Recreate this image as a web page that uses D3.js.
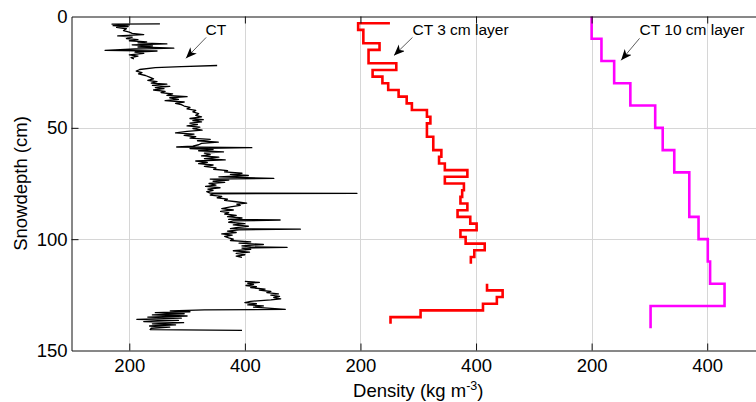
<!DOCTYPE html>
<html>
<head>
<meta charset="utf-8">
<script src="https://cdn.jsdelivr.net/npm/d3@7"></script>
<style>
  body { margin: 0; background: #fff; }
  svg { display: block; font-family: "Liberation Sans", Arial, sans-serif; }
</style>
</head>
<body>
<svg id="chart"></svg>
<script>
// CT profile, [depth cm, density kg m-3], null = no data
const ctProfile = [
  [3.3,253],[3.4,170],[3.8,200],[4.1,172],[4.5,198],[4.9,178],[5.5,195],[6.3,190],[7.0,200],[7.6,205],
  [8.1,225],[8.7,180],[9.3,205],[9.9,195],[10.4,215],[10.9,200],[11.4,230],[11.8,215],[12.3,265],[12.7,205],
  [13.2,240],[13.7,215],[14.2,277],[14.6,210],[15.2,158],[15.5,248],[16.0,210],[16.6,225],[17.2,200],[17.8,215],
  [18.5,203],[19.0,208],
  [20.5,null],
  [22.0,352],[22.5,290],[23.0,245],[23.8,218],[24.5,212],[25.2,222],[25.8,216],[26.5,228],[27.2,235],[28.0,242],
  [28.7,232],[29.3,248],[29.9,238],[30.4,265],[30.9,240],[31.4,270],[31.9,245],[32.4,260],[33.0,242],[33.6,262],
  [34.2,255],[34.8,275],[35.4,265],[36.0,300],[36.5,270],[37.2,285],[37.8,262],[38.4,295],[39.0,280],[39.6,290],
  [40.2,295],[40.8,305],[41.5,300],[42.2,315],[42.8,310],[43.6,320],[44.4,315],
  [45.1,325],[45.8,305],[46.3,328],[46.8,310],[47.3,325],[47.9,305],[48.5,318],[49.1,300],[49.7,322],[50.3,310],
  [51.0,326],[51.6,300],[52.3,280],[52.8,312],[53.4,295],[54.0,315],[54.6,305],[55.2,340],[55.8,318],[56.4,354],
  [57.0,325],[57.6,320],[58.2,310],[58.6,282],[58.9,412],[59.3,305],[59.8,345],[60.3,320],[60.8,363],[61.4,330],
  [62.0,340],[62.6,325],[63.2,355],[63.8,330],[64.4,366],[64.9,315],[65.5,335],[66.1,320],[66.7,345],[67.3,330],
  [68.0,350],[68.6,346],[69.2,370],[69.8,365],[70.4,395],[70.9,375],[71.4,406],[72.0,355],[72.7,450],[73.0,340],
  [73.5,372],[74.0,345],[74.5,365],[75.0,338],[75.7,350],[76.3,332],[76.9,357],[77.5,336],[78.1,345],[78.7,334],
  [79.3,340],[79.4,594],[79.6,345],[80.2,340],[80.8,360],[81.4,352],[82.0,370],[82.6,365],[83.2,385],[83.8,403],
  [84.3,386],[84.8,392],[85.5,375],[86.3,360],[86.9,380],[87.5,358],[88.1,372],[88.7,365],[89.3,385],[89.9,370],
  [90.5,395],[91.1,372],[91.4,461],[91.8,380],[92.4,372],[93.0,400],[93.6,380],[94.2,406],[94.8,385],[95.3,375],
  [95.5,496],[95.8,390],[96.4,370],[97.0,385],[97.6,360],[98.2,378],[98.8,365],[99.4,372],[100.0,380],[100.6,375],
  [101.2,410],[101.8,390],[102.4,432],[103.0,395],[103.5,410],[103.7,473],[104.0,395],[104.6,410],[105.2,380],[105.8,408],
  [106.4,385],[107.0,400],[107.6,385],[108.2,395],
  [113.0,null],
  [119.0,400],[119.4,425],[119.8,405],[120.3,415],[120.8,402],[121.3,420],[121.8,410],[122.4,435],[122.9,425],[123.5,445],
  [124.0,438],[124.6,458],[125.1,445],[125.7,460],[126.2,450],[126.8,462],[127.3,445],[127.9,410],[128.5,400],[129.0,420],
  [129.5,405],[130.0,432],[130.5,415],[131.0,440],[131.5,470],[131.8,330],[132.2,271],[132.6,305],[133.0,245],[133.5,295],
  [134.0,240],[134.5,300],[135.0,232],[135.5,290],[136.0,213],[136.5,285],[137.0,225],[137.5,294],[138.0,240],[138.5,280],
  [139.0,235],[139.5,270],[140.0,238],[140.6,236],[141.0,395]
];

// CT 3 cm layers (stairs: depth, density)
const layer3Depth = [3,6,9,12,15,18,21,24,27,30,33,36,39,42,45,48,51,54,57,60,63,66,69,72,75,78,81,84,87,90,
  93,96,99,102,105,108,111,114,117,120,123,126,129,132,135,138];
const layer3Density = [251,196,205,205,233,214,214,262,221,238,248,266,280,289,315,321,315,315,326,326,340,336,346,385,346,379,376,373,385,368,
  390,401,373,382,415,397,391,null,null,null,419,446,436,412,304,252];

// CT 10 cm layers (stairs: depth, density)
const layer10Depth = [0,10,20,30,40,50,60,70,80,90,100,110,120,130,140];
const layer10Density = [200,200,217,239,267,310,323,343,369,369,385,401,405,430,302];

// each panel is shifted along the shared density axis
const panelOffset = [0, 400, 800];
const yTicks = [0, 50, 100, 150];
const xTicks = [200, 400, 600, 800, 1000, 1200];
const xTickLabels = ["200", "400", "200", "400", "200", "400"];

// annotations: text position and arrow in data units (shifted density, depth)
const notes = [
  { label: "CT", tx: 332, ty: 8.1, from: [333, 9.4], to: [298, 18.8] },
  { label: "CT 3 cm layer", tx: 690, ty: 8.1, from: [690, 9.4], to: [658, 17.5] },
  { label: "CT 10 cm layer", tx: 1083, ty: 8.5, from: [1083, 9.8], to: [1051, 19.7] }
];

const width = 756, height = 402;
const margin = { left: 71.5, top: 16.5, bottom: 51.5 };

const svg = d3.select("#chart").attr("width", width).attr("height", height);

const x = d3.scaleLinear().domain([100, 1300]).range([margin.left, margin.left + 693.5]);
const y = d3.scaleLinear().domain([0, 150]).range([margin.top, height - margin.bottom]);

// grid
const grid = svg.append("g").attr("stroke", "#d6d6d6").attr("stroke-width", 1);
grid.selectAll("line.vx").data(xTicks).join("line")
  .attr("x1", d => Math.round(x(d)) + 0.5).attr("x2", d => Math.round(x(d)) + 0.5)
  .attr("y1", y(0)).attr("y2", y(150));
grid.selectAll("line.hy").data(yTicks.slice(1, -1)).join("line")
  .attr("x1", x(100)).attr("x2", width)
  .attr("y1", d => Math.round(y(d)) + 0.5).attr("y2", d => Math.round(y(d)) + 0.5);

// stairs like matlab: (v_i,d_i) -> (v_i+1,d_i) -> (v_i+1,d_i+1)
function stairs(depths, values, offset) {
  const pts = [];
  depths.forEach((d, i) => {
    pts.push([values[i] == null ? null : values[i] + offset, d]);
    if (i < depths.length - 1) {
      pts.push([values[i + 1] == null ? null : values[i + 1] + offset, d]);
    }
  });
  return pts;
}

const line = d3.line()
  .defined(p => p[0] != null)
  .x(p => x(p[0]))
  .y(p => y(p[1]));

svg.append("path")
  .attr("fill", "none").attr("stroke", "#000").attr("stroke-width", 1.3)
  .attr("stroke-linejoin", "round")
  .attr("d", line(ctProfile.map(([d, v]) => [v == null ? null : v + panelOffset[0], d])));

svg.append("path")
  .attr("fill", "none").attr("stroke", "#ff0000").attr("stroke-width", 2.6)
  .attr("d", line(stairs(layer3Depth, layer3Density, panelOffset[1])));

svg.append("path")
  .attr("fill", "none").attr("stroke", "#ff00ff").attr("stroke-width", 2.6)
  .attr("d", line(stairs(layer10Depth, layer10Density, panelOffset[2])));

// axes
const axisBottom = svg.append("g")
  .attr("transform", `translate(0, ${y(150)})`)
  .call(d3.axisBottom(x).tickValues(xTicks).tickFormat((d, i) => xTickLabels[i])
    .tickSizeInner(-7).tickSizeOuter(0).tickPadding(8));
const axisTop = svg.append("g")
  .attr("transform", `translate(0, ${y(0)})`)
  .call(d3.axisTop(x).tickValues(xTicks).tickFormat("").tickSizeInner(-7).tickSizeOuter(0));
const axisLeft = svg.append("g")
  .attr("transform", `translate(${x(100)}, 0)`)
  .call(d3.axisLeft(y).tickValues(yTicks).tickSizeInner(-7).tickSizeOuter(0).tickPadding(4));

[axisBottom, axisTop, axisLeft].forEach(g => {
  g.select(".domain").attr("stroke", "#111");
  g.selectAll(".tick line").attr("stroke", "#111");
  g.selectAll("text").attr("font-size", 18.5).attr("fill", "#000")
    .attr("font-family", "Liberation Sans, Arial, sans-serif");
});
axisLeft.selectAll(".tick").filter(d => d === 0 || d === 150).select("line").remove();

// axis titles
svg.append("text")
  .attr("transform", `translate(27, ${(y(0) + y(150)) / 2}) rotate(-90)`)
  .attr("text-anchor", "middle")
  .attr("font-size", 18.5)
  .text("Snowdepth (cm)");

const xt = svg.append("text")
  .attr("x", (x(100) + x(1300)) / 2)
  .attr("y", 397)
  .attr("text-anchor", "middle")
  .attr("font-size", 18.5);
xt.append("tspan").text("Density (kg m");
xt.append("tspan").attr("font-size", 12.5).attr("dy", -7).text("-3");
xt.append("tspan").attr("dy", 7).text(")");

// arrows
svg.append("defs").append("marker")
  .attr("id", "head")
  .attr("markerUnits", "userSpaceOnUse")
  .attr("markerWidth", 12).attr("markerHeight", 10)
  .attr("viewBox", "0 0 12 10")
  .attr("refX", 11).attr("refY", 4.5)
  .attr("orient", "auto")
  .append("path")
  .attr("d", "M0,0 L11,4.5 L0,9 L3,4.5 Z")
  .attr("fill", "#000");

const ann = svg.append("g");
ann.selectAll("line").data(notes).join("line")
  .attr("x1", d => x(d.from[0])).attr("y1", d => y(d.from[1]))
  .attr("x2", d => x(d.to[0])).attr("y2", d => y(d.to[1]))
  .attr("stroke", "#333").attr("stroke-width", 0.8)
  .attr("marker-end", "url(#head)");
ann.selectAll("text").data(notes).join("text")
  .attr("x", d => x(d.tx)).attr("y", d => y(d.ty))
  .attr("font-size", 15.5)
  .text(d => d.label);
</script>
</body>
</html>
